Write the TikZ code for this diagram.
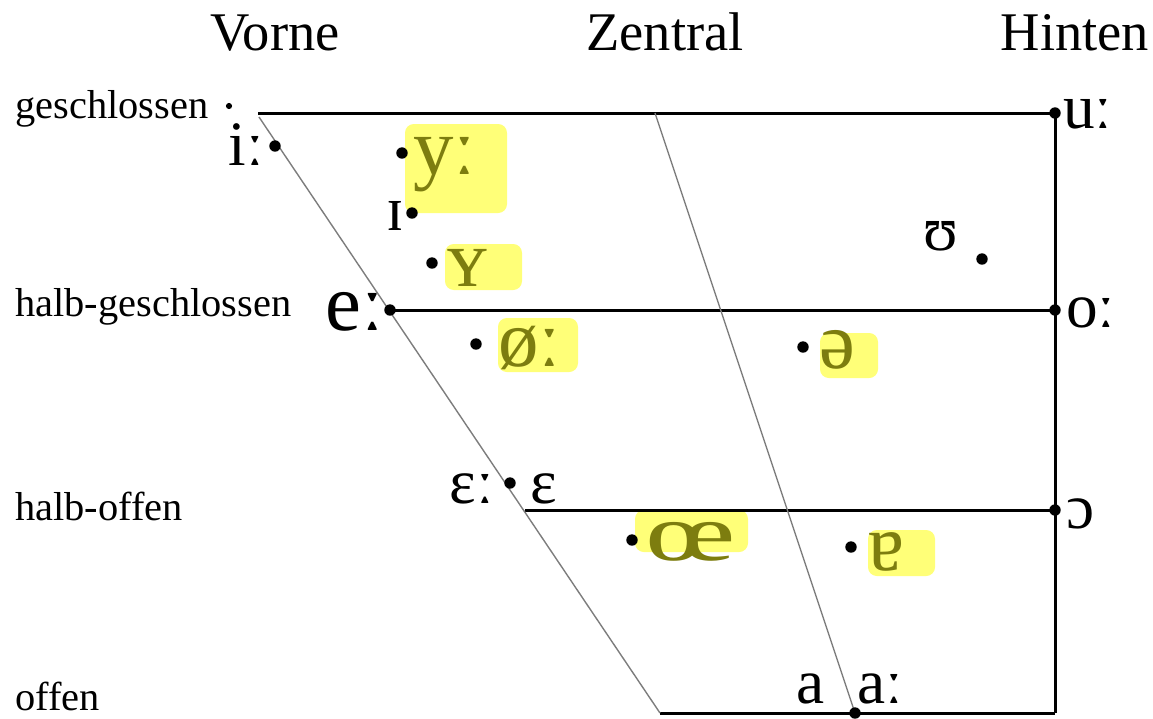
\documentclass[tikz,border=0pt]{standalone}
\usepackage{fontspec}
\setmainfont{Liberation Serif}
\usetikzlibrary{positioning, backgrounds}
\definecolor{hlyellow}{RGB}{255, 255, 120}
\definecolor{hltext}{RGB}{125, 125, 15}
\definecolor{guidegray}{RGB}{125, 125, 125}

\begin{document}
\begin{tikzpicture}[
    x=0.02cm, y=-0.02cm,
    vdot/.style={circle, fill=black, inner sep=0pt, minimum size=6.5pt},
    smalldot/.style={circle, fill=black, inner sep=0pt, minimum size=3.5pt},
    vowel/.style={font=\fontsize{36}{36}\selectfont, inner sep=0pt},
    marked/.style={font=\fontsize{46}{46}\selectfont, inner sep=0pt, text=hltext},
    header/.style={font=\fontsize{31}{31}\selectfont, anchor=base, inner sep=0pt},
    rowlabel/.style={font=\fontsize{23}{23}\selectfont, anchor=base west, inner sep=0pt, text depth=0pt},
    frameline/.style={line width=1.7pt},
    guideline/.style={guidegray, line width=0.8pt},
    highlight/.style={fill=hlyellow, rounded corners=5pt}
]
    \useasboundingbox (0, 0) rectangle (1153, 718);

    % =========================================================================
    % HEADERS AND ROW LABELS
    % =========================================================================
    \node[header] (front) at (275, 50) {Vorne};
    \node[header] (central) at (665, 50) {Zentral};
    \node[header] (back) at (1075, 50) {Hinten};

    \node[rowlabel] (closed) at (15, 118) {geschlossen};
    \node[rowlabel] (closemid) at (15, 316) {halb-geschlossen};
    \node[rowlabel] (openmid) at (15, 520) {halb-offen};
    \node[rowlabel] (open) at (15, 710) {offen};
    \node[smalldot] (closedMark) at (229, 106) {};

    % =========================================================================
    % VOWEL POINTS
    % =========================================================================
    \node[vdot] (iLong) at (275, 146) {};
    \node[vdot] (yLong) at (402, 153) {};
    \node[vdot] (iShort) at (412, 213) {};
    \node[vdot] (yShort) at (432, 263) {};
    \node[vdot] (eLong) at (390, 310) {};
    \node[vdot] (oeLong) at (476, 344) {};
    \node[vdot] (schwa) at (803, 347) {};
    \node[vdot] (uShort) at (982, 259) {};
    \node[vdot] (epsDot) at (510, 483) {};
    \node[vdot] (oeShort) at (632, 540) {};
    \node[vdot] (aSchwa) at (851, 547) {};
    \node[vdot] (uLong) at (1055, 113) {};
    \node[vdot] (oLong) at (1055, 310) {};
    \node[vdot] (oShort) at (1055, 510) {};
    \node[vdot] (aDot) at (855, 713) {};

    % Vowel symbols
    \node[vowel, anchor=base east] (iLongL) at (264, 165) {iː};
    \node[marked, anchor=base west] (yLongL) at (413, 174) {yː};
    \node[vowel, anchor=base east] (iShortL) at (404, 230) {ɪ};
    \node[marked, anchor=base west] (yShortL) at (447, 286) {ʏ};
    \node[vowel, anchor=base east, font=\fontsize{46}{46}\selectfont] (eLongL) at (384, 330) {eː};
    \node[marked, anchor=base west] (oeLongL) at (498, 366) {øː};
    \node[marked, anchor=base west] (schwaL) at (819, 368) {ə};
    \node[vowel, anchor=base west] (uShortL) at (923, 250) {ʊ};
    \node[vowel, anchor=base west] (oLongL) at (1066, 327) {oː};
    \node[vowel, anchor=base east] (epsLongL) at (494, 503) {ɛː};
    \node[vowel, anchor=base west] (epsShortL) at (530, 503) {ɛ};
    \node[marked, anchor=base west] (oeShortL) at (645, 560) {\scalebox{1.55}[1]{œ}};
    \node[marked, anchor=base west] (aSchwaL) at (868, 570) {ɐ};
    \node[vowel, anchor=base west] (oShortL) at (1066, 528) {ɔ};
    \node[vowel, anchor=base east] (aShortL) at (825, 703) {a};
    \node[vowel, anchor=base west] (aLongL) at (857, 703) {aː};
    \node[vowel, anchor=base west] (uLongL) at (1063, 128) {uː};

    % =========================================================================
    % TRAPEZOID AND HIGHLIGHTS (behind the points)
    % =========================================================================
    \coordinate (closeLeft) at (258, 113);
    \coordinate (frontTop) at (259, 117);
    \coordinate (centralTop) at (655, 113);
    \coordinate (openMidLeft) at (525, 510);
    \coordinate (openLeft) at (660, 713);
    \coordinate (openRight) at (1055, 713);

    \begin{pgfonlayer}{background}
        \fill[highlight] (405, 124) rectangle (507, 213);
        \fill[highlight] (445, 244) rectangle (522, 290);
        \fill[highlight] (498, 318) rectangle (578, 372);
        \fill[highlight] (820, 333) rectangle (878, 378);
        \fill[highlight] (635, 510) rectangle (748, 552);
        \fill[highlight] (868, 530) rectangle (935, 576);

        \draw[frameline] (closeLeft) -- (uLong.center) -- (oLong.center) -- (oShort.center) -- (openRight);
        \draw[frameline] (eLong.center) -- (oLong.center);
        \draw[frameline] (openMidLeft) -- (oShort.center);
        \draw[frameline] (openLeft) -- (aDot.center) -- (openRight);

        \draw[guideline] (frontTop) -- (openLeft);
        \draw[guideline] (centralTop) -- (aDot.center);
    \end{pgfonlayer}

\end{tikzpicture}
\end{document}
